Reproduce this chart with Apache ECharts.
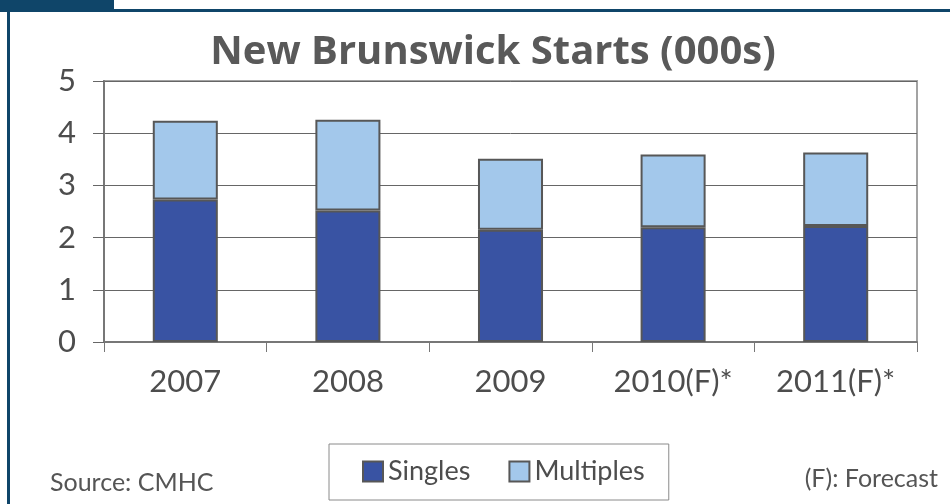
<!DOCTYPE html>
<html lang="en">
<head>
  <meta charset="UTF-8">
  <title>New Brunswick Starts</title>
  <script src="https://cdn.jsdelivr.net/npm/echarts@6.0.0/dist/echarts.min.js"></script>
  <style>
    html, body {
      margin: 0;
      padding: 0;
      background: #fff;
    }

    #main {
      width: 950px;
      height: 504px;
    }
  </style>
</head>
<body>
  <div id="main"></div>

  <script type="text/javascript">
    // data
    var categories = ['2007', '2008', '2009', '2010(F)*', '2011(F)*'];
    var singles = [2.73, 2.52, 2.15, 2.20, 2.22];
    var multiples = [1.51, 1.74, 1.36, 1.39, 1.41];

    var navy = '#0f4569';
    var textColor = '#4d4d4d';
    var fontFamily = 'Lato, "Open Sans", sans-serif';

    var myChart = echarts.init(document.getElementById('main'));

    var option = {
      animation: false,
      title: {
        text: 'New Brunswick Starts (000s)',
        left: 488,
        textAlign: 'center',
        top: 28,
        textStyle: {
          fontFamily: '"Open Sans", Lato, sans-serif',
          fontSize: 40,
          fontWeight: 'bold',
          color: '#595959'
        }
      },
      legend: {
        data: ['Singles', 'Multiples'],
        left: 329,
        top: 444,
        padding: [14, 24, 15, 33],
        itemGap: 38,
        itemWidth: 20,
        itemHeight: 20,
        icon: 'rect',
        borderColor: '#8a8a8a',
        borderWidth: 1,
        textStyle: {
          fontFamily: fontFamily,
          fontSize: 27,
          color: textColor
        }
      },
      grid: {
        left: 104,
        top: 81,
        right: 33,
        bottom: 162,
        show: true,
        borderColor: '#a3a3a3',
        borderWidth: 2
      },
      xAxis: {
        type: 'category',
        data: categories,
        axisLine: { lineStyle: { color: '#777', width: 2 } },
        axisTick: { show: true, length: 10, lineStyle: { color: '#777', width: 1 } },
        axisLabel: {
          margin: 24,
          fontFamily: fontFamily,
          fontSize: 31,
          color: textColor
        }
      },
      yAxis: {
        type: 'value',
        min: 0,
        max: 5,
        interval: 1,
        axisLine: { show: true, lineStyle: { color: '#777', width: 2 } },
        axisTick: { show: true, length: 11, lineStyle: { color: '#666', width: 1 } },
        axisLabel: {
          margin: 28,
          fontFamily: fontFamily,
          fontSize: 31,
          color: textColor
        },
        splitLine: { lineStyle: { color: '#666', width: 1 } }
      },
      series: [
        {
          name: 'Singles',
          type: 'bar',
          stack: 'starts',
          barWidth: '40%',
          data: singles,
          itemStyle: { color: '#3953a3', borderColor: '#575757', borderWidth: 2 }
        },
        {
          name: 'Multiples',
          type: 'bar',
          stack: 'starts',
          barWidth: '40%',
          data: multiples,
          itemStyle: { color: '#a3c8eb', borderColor: '#575757', borderWidth: 2 }
        }
      ],
      graphic: [
        // frame: top-left tab, top rule, left rule
        { type: 'rect', shape: { x: 0, y: 0, width: 114, height: 11 }, style: { fill: navy } },
        { type: 'rect', shape: { x: 0, y: 9, width: 950, height: 3 }, style: { fill: navy } },
        { type: 'rect', shape: { x: 7, y: 9, width: 3, height: 495 }, style: { fill: navy } },
        {
          type: 'text',
          left: 50,
          top: 470,
          style: {
            text: 'Source: CMHC',
            font: '25px ' + fontFamily,
            fill: '#555'
          }
        },
        {
          type: 'text',
          right: 12,
          top: 466,
          style: {
            text: '(F): Forecast',
            font: '25px ' + fontFamily,
            fill: '#555'
          }
        }
      ]
    };

    myChart.setOption(option);
  </script>
</body>
</html>
